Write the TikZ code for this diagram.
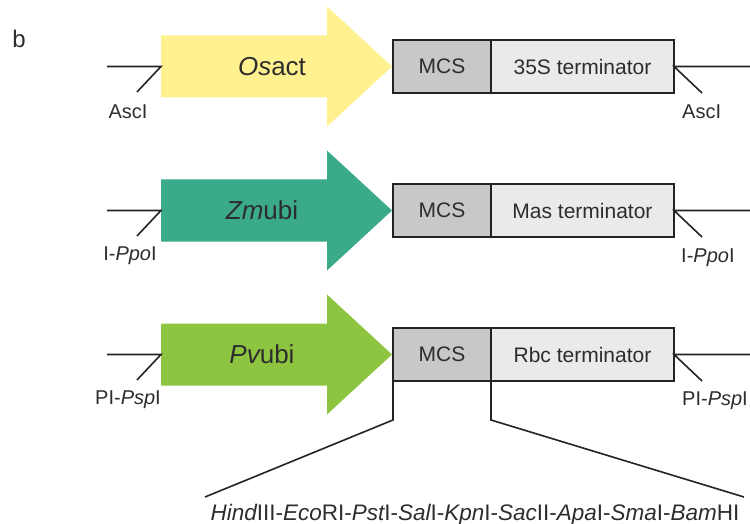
\documentclass[tikz,border=0pt]{standalone}
\usepackage{fontspec}
\setmainfont{Liberation Sans}
\usepackage{tikz}
\usetikzlibrary{shapes,arrows}
\usetikzlibrary{positioning}
\definecolor{actcol}{RGB}{255,241,143}
\definecolor{zmcol}{RGB}{58,170,138}
\definecolor{pvcol}{RGB}{141,197,64}
\definecolor{mcscol}{RGB}{200,200,200}
\definecolor{termcol}{RGB}{234,234,234}
\definecolor{linecol}{RGB}{35,35,35}
\definecolor{txtcol}{RGB}{45,45,45}
\tikzset{minimum size=0pt, text=txtcol}
\tikzstyle{prolabel} = [inner sep=0pt, font=\fontsize{26}{26}\selectfont]
\tikzstyle{mcs} = [draw=linecol, line width=1.6pt, fill=mcscol, rectangle, minimum height=53pt, minimum width=98pt, outer sep=0pt, font=\fontsize{21}{21}\selectfont]
\tikzstyle{term} = [draw=linecol, line width=1.6pt, fill=termcol, rectangle, minimum height=53pt, minimum width=183pt, outer sep=0pt, font=\fontsize{21}{21}\selectfont]
\tikzstyle{site} = [font=\fontsize{20}{20}\selectfont, inner sep=0pt]
\tikzstyle{cut} = [coordinate]
\tikzstyle{wire} = [draw=linecol, line width=1.6pt]
% promoter arrow: name, y, colour, label x, label
\newcommand{\promarrow}[5]{%
	\fill [#3] (161,#2-31) -- (327,#2-31) -- (327,#2-60) -- (392,#2) -- (327,#2+60) -- (327,#2+31) -- (161,#2+31) -- cycle;
	\node [prolabel] (#1) at (#4,#2) {#5};
	\node [cut] (#1-tail) at (161,#2) {};}

\begin{document}
\begin{tikzpicture}[x=1pt, y=-1pt]
		\useasboundingbox (0,0) rectangle (750,524);
		\node [font=\fontsize{24}{24}\selectfont] (panel) at (19,39) {b};

		% Osact cassette
		\promarrow{prom1}{66.5}{actcol}{272}{{\itshape Os}act}
		\node [mcs] (mcs1) at (442,66.5) {MCS};
		\node [term, right=0pt of mcs1] (term1) {35S terminator};
		\node [cut] (l1) at (107,66.5) {};
		\node [cut] (lc1) at (137,92) {};
		\node [cut] (r1) at (750,66.5) {};
		\node [cut] (rc1) at (702,93) {};
		\node [site] (asc1) at (128,112) {AscI};
		\node [site, anchor=west] (asc2) at (682,112) {AscI};
		\draw [wire] (l1) -- (prom1-tail) -- (lc1);
		\draw [wire] (r1) -- (term1.east) -- (rc1);

		% Zmubi cassette
		\promarrow{prom2}{210.5}{zmcol}{262}{{\itshape Zm}ubi}
		\node [mcs] (mcs2) at (442,210.5) {MCS};
		\node [term, right=0pt of mcs2] (term2) {Mas terminator};
		\node [cut] (l2) at (107,210.5) {};
		\node [cut] (lc2) at (137,236) {};
		\node [cut] (r2) at (750,210.5) {};
		\node [cut] (rc2) at (702,237) {};
		\node [site] (ppo1) at (130,256) {I-{\itshape Ppo}I};
		\node [site, anchor=west] (ppo2) at (681,258) {I-{\itshape Ppo}I};
		\draw [wire] (l2) -- (prom2-tail) -- (lc2);
		\draw [wire] (r2) -- (term2.east) -- (rc2);

		% Pvubi cassette
		\promarrow{prom3}{354.5}{pvcol}{262}{{\itshape Pv}ubi}
		\node [mcs] (mcs3) at (442,354.5) {MCS};
		\node [term, right=0pt of mcs3] (term3) {Rbc terminator};
		\node [cut] (l3) at (107,354.5) {};
		\node [cut] (lc3) at (137,380) {};
		\node [cut] (r3) at (750,354.5) {};
		\node [cut] (rc3) at (702,381) {};
		\node [site] (psp1) at (128,400) {PI-{\itshape Psp}I};
		\node [site, anchor=west] (psp2) at (682,401) {PI-{\itshape Psp}I};
		\draw [wire] (l3) -- (prom3-tail) -- (lc3);
		\draw [wire] (r3) -- (term3.east) -- (rc3);

		% MCS sites
		\node [cut] (k1) at (393,420) {};
		\node [cut] (k2) at (491,420) {};
		\node [cut] (h1) at (205,497) {};
		\node [cut] (h2) at (744,497) {};
		\node [font=\fontsize{22.5}{22.5}\selectfont, inner sep=0pt, anchor=base] (sites) at (475,520.5) {{\itshape Hind}III-{\itshape Eco}RI-{\itshape Pst}I-{\itshape Sal}I-{\itshape Kpn}I-{\itshape Sac}II-{\itshape Apa}I-{\itshape Sma}I-{\itshape Bam}HI};
		\draw [wire] (mcs3.south west) -- (k1) -- (h1);
		\draw [wire] (term3.south west) -- (k2) -- (h2);
	\end{tikzpicture}
\end{document}
